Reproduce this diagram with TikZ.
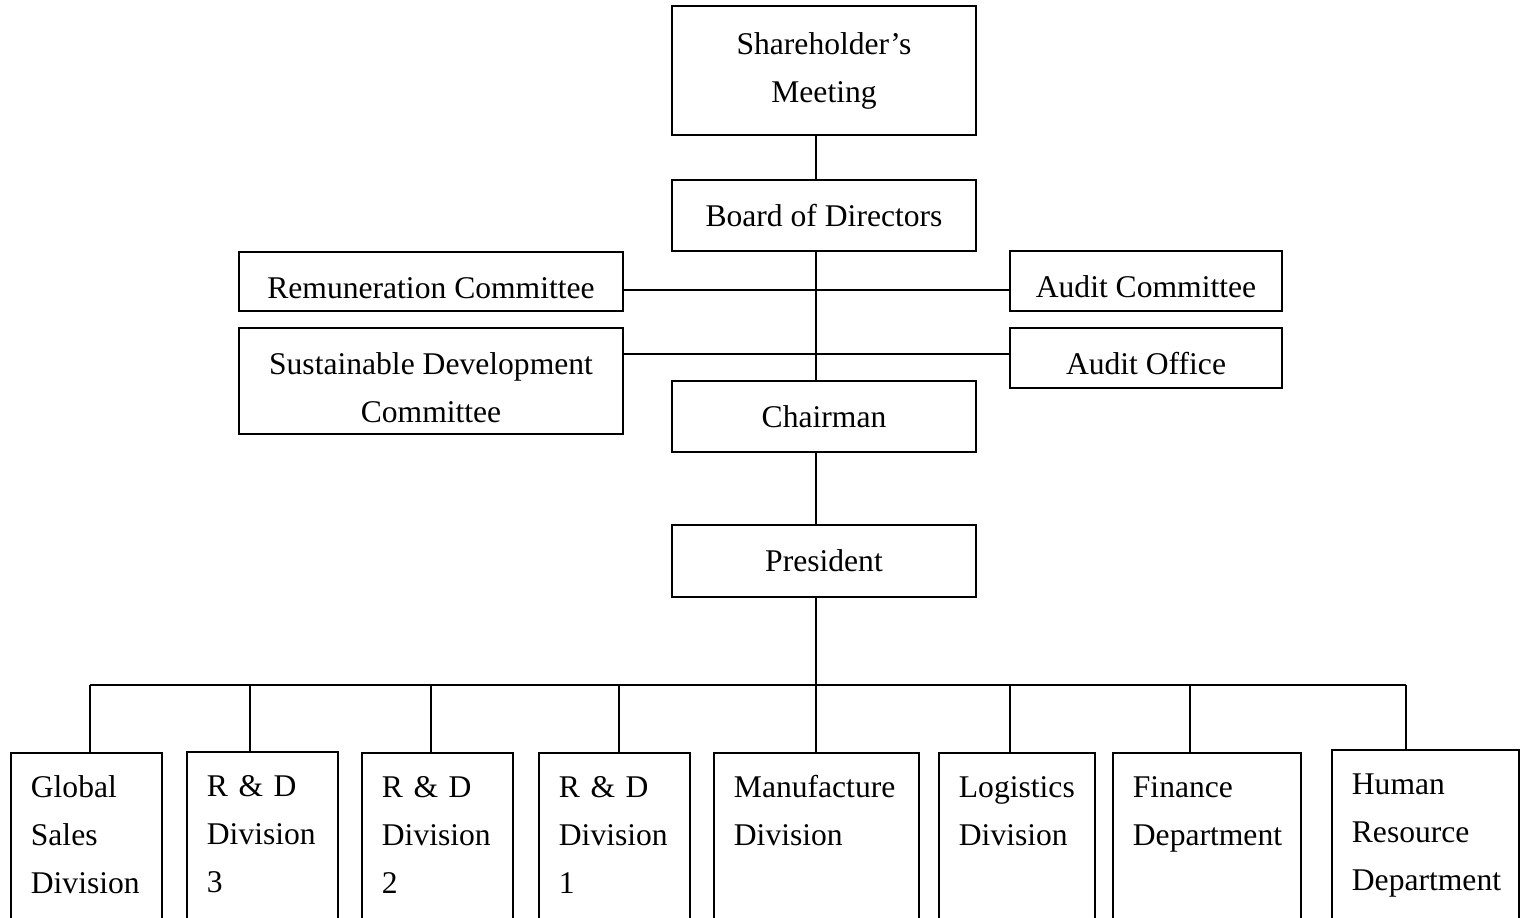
\documentclass[tikz,border=0pt]{standalone}
\usepackage{fontspec}
\setmainfont{Liberation Serif}
\usepackage{tikz}
\hyphenpenalty=10000
\exhyphenpenalty=10000
\newcommand{\orgfont}{\fontsize{15.8}{24}\selectfont}
\tikzset{
    post/.style={draw, line width=0.9pt, inner sep=0pt, align=center, font=\orgfont},
    sunk/.style={text height=16.5pt, text depth=0pt},
    unit/.style={draw, line width=0.9pt, anchor=north west, inner xsep=10pt, inner ysep=0pt,
        text height=22.5pt, text depth=70pt, align=left, font=\orgfont},
    link/.style={line width=0.9pt}
}
\begin{document}
\begin{tikzpicture}[x=0.5pt, y=-0.5pt]
        \useasboundingbox (0,0) rectangle (1535,917);
        \clip (0,0) rectangle (1535,917);
        \coordinate (spine) at (816,0);
        \coordinate (busl) at (90,685);
        \coordinate (busr) at (1406,685);

        % Governance
        \node (share) [post, minimum width=152pt, minimum height=64.5pt] at (824,70.5) {Shareholder's\\Meeting};
        \node (board) [post, minimum width=152pt, minimum height=35.5pt] at (824,215.5) {Board of Directors};
        \node (remc) [post, sunk, minimum width=192pt, minimum height=29.5pt] at (431,281.5) {Remuneration Committee};
        \node (sdc) [post, text height=41.8pt, text depth=0pt, minimum width=192pt, minimum height=53pt] at (431,381) {Sustainable Development\\Committee};
        \node (auditc) [post, sunk, minimum width=136pt, minimum height=30pt] at (1146,281) {Audit Committee};
        \node (aoff) [post, sunk, minimum width=136pt, minimum height=30pt] at (1146,358) {Audit Office};
        \node (chair) [post, minimum width=152pt, minimum height=35.5pt] at (824,416.5) {Chairman};
        \node (pres) [post, minimum width=152pt, minimum height=36pt] at (824,561) {President};

        \draw[link] (share.south -| spine) -- (board.north -| spine);
        \draw[link] (board.south -| spine) -- (chair.north -| spine);
        \draw[link] (chair.south -| spine) -- (pres.north -| spine);
        \draw[link] (pres.south -| spine) -- (spine |- busl);
        \draw[link] ([yshift=-4.25pt]remc.east) -- ([yshift=-4.25pt]remc.east -| auditc.west);
        \draw[link] ([yshift=13.5pt]sdc.east) -- ([yshift=13.5pt]sdc.east -| aoff.west);

        % Divisions
        \draw[link] (busl) -- (busr);
        \foreach \id/\lx/\ty/\tw/\sx/\txt in {
            gsd/10/752/55.5/90/{Global\\Sales\\Division},
            rd3/186/751/55.5/250/{R \& D\\Division\\3},
            rd2/361/752/55.5/431/{R \& D\\Division\\2},
            rd1/538/752/55.5/619/{R \& D\\Division\\1},
            mfg/713/752/82.5/816/{Manufacture\\Division},
            lgs/938/752/58/1010/{Logistics\\Division},
            fin/1112/752/74/1190/{Finance\\Department},
            hrd/1331/749/73.5/1406/{Human\\Resource\\Department}}
        {
            \node (\id) [unit, text width=\tw pt] at (\lx,\ty) {\txt};
            \coordinate (s\id) at (\sx,685);
            \draw[link] (s\id) -- (s\id |- \id.north);
        }
\end{tikzpicture}
\end{document}
